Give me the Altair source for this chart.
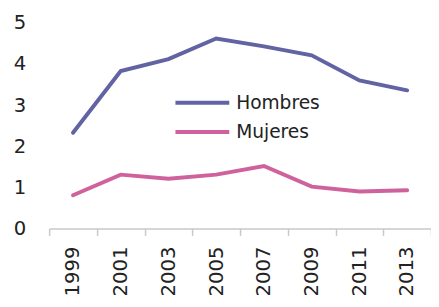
import altair as alt
import pandas as pd

years = ["1999", "2001", "2003", "2005", "2007", "2009", "2011", "2013"]
hombres = [2.33, 3.83, 4.12, 4.62, 4.43, 4.21, 3.60, 3.36]
mujeres = [0.81, 1.31, 1.21, 1.31, 1.52, 1.02, 0.90, 0.93]
series = ["Hombres", "Mujeres"]
colors = ["#6163A3", "#CF629C"]

rows = []
for y, h, m in zip(years, hombres, mujeres):
    rows.append({"year": y, "value": h, "serie": "Hombres"})
    rows.append({"year": y, "value": m, "serie": "Mujeres"})
df = pd.DataFrame(rows)

FONT = "DejaVu Sans"

chart = alt.Chart(df).mark_line(strokeWidth=4, strokeCap="round").encode(
    x=alt.X("year:O", bandPosition=0.5,
            scale=alt.Scale(type="band", paddingInner=0, paddingOuter=0),
            axis=alt.Axis(title=None, labelAngle=-90, tickBand="extent",
                          labelFontSize=20, labelFont=FONT, labelColor="#222222",
                          domainColor="#c8c8c8", tickColor="#c8c8c8", tickSize=7,
                          labelPadding=11, domainWidth=1.5, tickWidth=1.5,
                          labelBaseline="middle")),
    y=alt.Y("value:Q", scale=alt.Scale(domain=[0, 5], nice=False),
            axis=alt.Axis(title=None, values=[0, 1, 2, 3, 4, 5], grid=False,
                          domain=False, ticks=False, labelPadding=24,
                          labelFontSize=20, labelFont=FONT, labelColor="#222222")),
    color=alt.Color("serie:N", scale=alt.Scale(domain=series, range=colors),
                    legend=alt.Legend(title=None, orient="none", legendX=147, legendY=72,
                                      symbolType="M-5,0L5,0", symbolSize=121,
                                      symbolStrokeWidth=4, labelFontSize=19,
                                      labelFont=FONT, labelColor="#222222",
                                      rowPadding=10, labelOffset=25, padding=0)),
).properties(
    width=390, height=210,
    autosize=alt.AutoSizeParams(type="none"),
    padding={"left": 42, "top": 12, "right": 0, "bottom": 80},
).configure_view(stroke=None)

chart.save("out.html", embed_options={"renderer": "svg", "actions": False})
